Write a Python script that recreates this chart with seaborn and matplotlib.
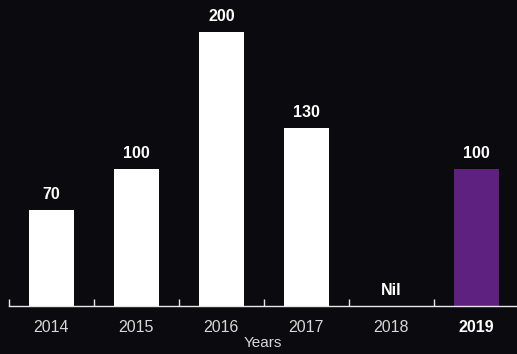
import matplotlib
matplotlib.use("Agg")
import matplotlib.pyplot as plt
import seaborn as sns
import pandas as pd

years = ["2014", "2015", "2016", "2017", "2018", "2019"]
values = [70, 100, 200, 130, 0, 100]
labels = ["70", "100", "200", "130", "Nil", "100"]
colors = ["#ffffff", "#ffffff", "#ffffff", "#ffffff", "#cfcfcf", "#5e2180"]

BG = "#0a0a0f"
sns.set_theme(style="white")
plt.rcParams['font.family'] = ['Liberation Sans', 'DejaVu Sans']

df = pd.DataFrame({"year": years, "value": values})

fig = plt.figure(figsize=(5.17, 3.54), dpi=100, facecolor=BG)
ax = fig.add_axes([9/517, 48/354, 1 - 9/517, 306/354])
ax.set_facecolor(BG)

sns.barplot(data=df, x="year", y="value", hue="year", palette=colors,
            width=45/85, legend=False, ax=ax, saturation=1, linewidth=0)

for i, (v, lab) in enumerate(zip(values, labels)):
    ax.text(i, v + 6.0, lab, ha="center", va="bottom", color="white",
            fontsize=11.5, fontweight="bold")

ax.set_xlim(-0.5, 5.48)
ax.set_ylim(0, 306/1.37)

for s in ["top", "right", "left"]:
    ax.spines[s].set_visible(False)
ax.spines["bottom"].set_color("#e8e8e8")
ax.spines["bottom"].set_linewidth(1)

ax.set_yticks([])
ax.set_xticks(range(6))
ax.set_xticklabels(years)
ax.tick_params(axis="x", which="major", length=0, pad=10, labelsize=11.5, labelcolor="#d8d8d8")
ax.set_xticks([-0.5, 0.5, 1.5, 2.5, 3.5, 4.5], minor=True)
ax.tick_params(axis="x", which="minor", bottom=True, length=5, width=1, direction="in", color="#e8e8e8")
for t in ax.get_xticklabels():
    if t.get_text() == "2019":
        t.set_fontweight("bold")
        t.set_color("white")

ax.set_xlabel("Years", color="#d8d8d8", fontsize=11, labelpad=1)
ax.set_ylabel("")

fig.savefig("out.png", dpi=100, facecolor=BG)
